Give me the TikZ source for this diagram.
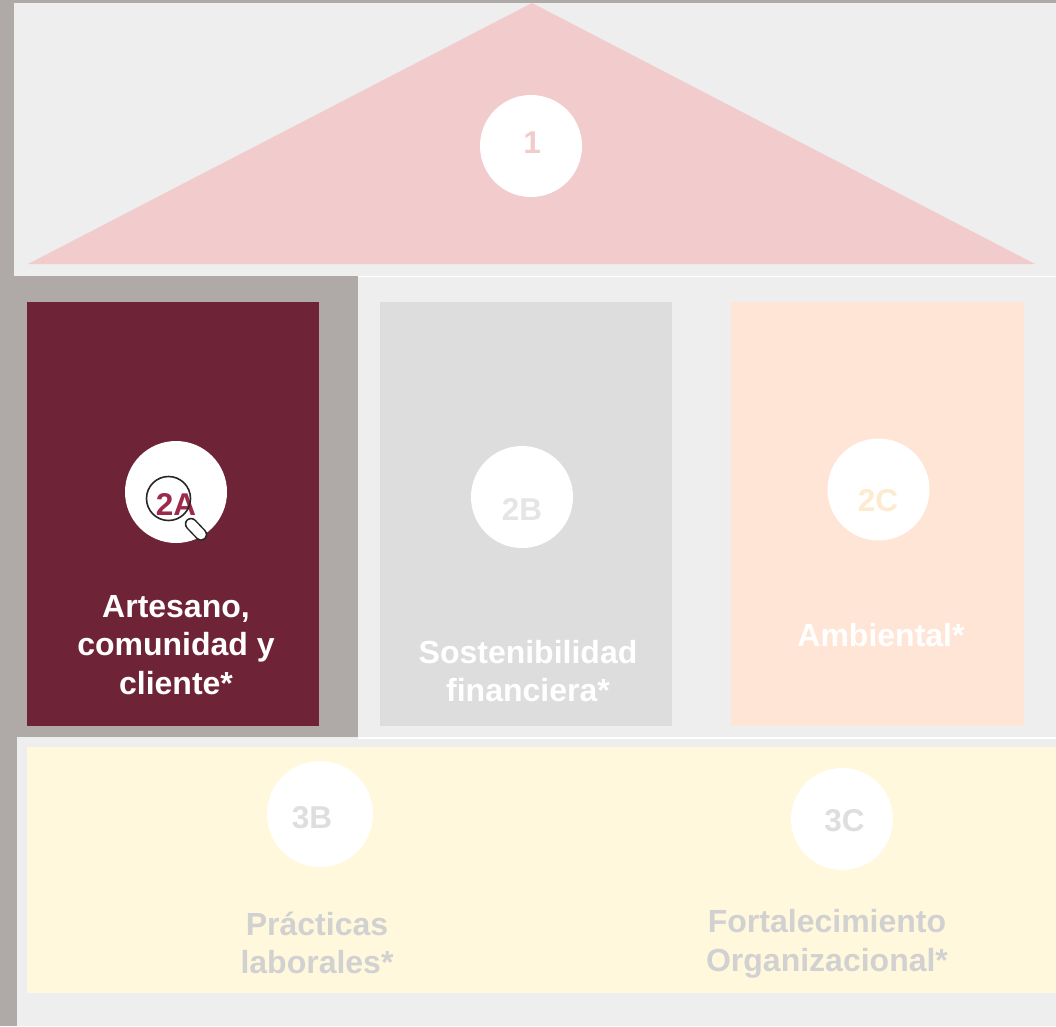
\documentclass[tikz,border=0pt]{standalone}
\usepackage{xcolor}
\usepackage{fontspec}
\setmainfont{Liberation Sans}

\definecolor{frame}{HTML}{AFAAA8}
\definecolor{panel}{HTML}{EEEEEE}
\definecolor{roof}{HTML}{F2CBCC}
\definecolor{wine}{HTML}{6E2336}
\definecolor{winetext}{HTML}{9E2A4B}
\definecolor{greybox}{HTML}{DDDDDD}
\definecolor{peach}{HTML}{FFE5D5}
\definecolor{peachtext}{HTML}{FCEBCF}
\definecolor{cream}{HTML}{FFF8DC}

\tikzset{
	badge/.style={circle,fill=white,inner sep=0,minimum size=102},
	tag/.style={font=\fontsize{31.5}{32}\selectfont\bfseries,inner sep=0},
	title/.style={font=\fontsize{32}{38.5}\selectfont\bfseries,align=center,inner sep=0},
}

\begin{document}
\begin{tikzpicture}[x=1pt,y=-1pt]

\useasboundingbox (0,0) rectangle (1056,1026);

\fill[frame] (0,0) rectangle (1056,1026);

\fill[panel] (14,3) rectangle (1056,276);
\fill[panel] (358,277) rectangle (1056,737);
\fill[panel] (17,737) rectangle (1056,1026);
\fill[white] (358,276) rectangle (1056,277);
\fill[white] (358,737) rectangle (1056,739);

\fill[roof] (532,3)--(1035,264)--(28,264)--cycle;

\fill[wine] (27,302) rectangle (319,726);
\fill[greybox] (380,302) rectangle (672,726);
\fill[peach] (731,302) rectangle (1024,726);
\fill[cream] (27,747) rectangle (1056,993);

\node[badge] (c1) at (531,146) {};
\node[badge] (c2A) at (176,492) {};
\node[badge] (c2B) at (522,497) {};
\node[badge] (c2C) at (878.5,489.5) {};
\node[badge,minimum size=106] (c3B) at (320,814) {};
\node[badge] (c3C) at (842,819) {};

\node[tag,text=roof] (t1) at (532,143) {1};
\node[tag,text=winetext] (t2A) at (176,504) {2A};
\node[tag,text=black!10!white] (t2B) at (522,509) {2B};
\node[tag,text=peachtext] (t2C) at (878,501) {2C};
\node[tag,text=black!13!white] (t3B) at (312,818) {3B};
\node[tag,text=black!13!white] (t3C) at (844.5,821) {3C};

\node[title,text=white] (a2A) at (176,645) {Artesano,\\comunidad y\\cliente*};
\node[title,text=white] (a2B) at (528,671) {Sostenibilidad\\financiera*};
\node[title,text=white] (a2C) at (881,635) {Ambiental*};
\node[title,text=black!18!white] (a3B) at (317,943) {Prácticas\\laborales*};
\node[title,text=black!18!white] (a3C) at (827,944) {Fortalecimiento\\Organizacional*};

% lupa
\draw[line width=1.6,black!85!white] (168.5,498.5) circle (22);
\draw[line width=12.5,black!85!white,line cap=round] (191,524)--(201,534.5);
\draw[line width=9.5,white,line cap=round] (191,524)--(201,534.5);

\end{tikzpicture}
\end{document}
